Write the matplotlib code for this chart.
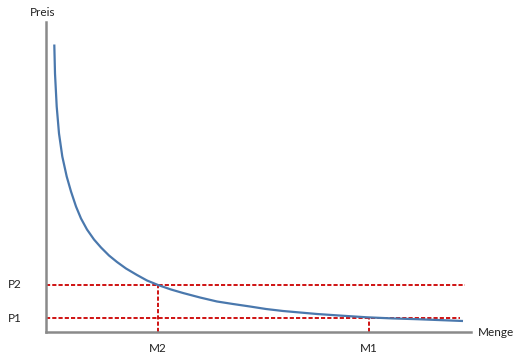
import matplotlib
matplotlib.use("Agg")
import matplotlib.pyplot as plt
import matplotlib.transforms as mtransforms

# Demand curve points (arbitrary units)
menge = [8.3, 9, 10.7, 13, 16.3, 20.7, 25, 30, 35, 41, 48, 55, 63, 71, 80, 91,
         101, 112, 125, 137, 154, 171, 187, 204, 220, 237, 254, 271, 296, 321,
         346, 371, 394, 417]
preis = [287, 258, 225, 198, 175, 155, 140, 125, 113, 102, 92, 84, 76, 69.5, 63, 56.5,
         51, 46.5, 42, 38.5, 34, 30, 27.5, 25, 22.5, 20.5, 19, 17.5, 15.8, 14.2,
         13.1, 12.3, 11.4, 10.5]

# Reference levels
P_labels = ["P2", "P1"]
P_values = [47, 13.5]
M_labels = ["M2", "M1"]
M_values = [112, 323]
P_line_end = [419, 414]

W, H = 526, 360
plt.rcParams['font.family'] = ['Lato', 'DejaVu Sans']
plt.rcParams['lines.scale_dashes'] = False

fig = plt.figure(figsize=(W / 100, H / 100), dpi=100)
ax = fig.add_axes([46 / W, 1 - 331.5 / H, (471 - 46) / W, (331.5 - 22) / H])
ax.set_xlim(0, 425)
ax.set_ylim(0, 309.5)

for s in ['top', 'right']:
    ax.spines[s].set_visible(False)
for s in ['left', 'bottom']:
    ax.spines[s].set_color('#8a8a8a')
    ax.spines[s].set_linewidth(1.8)
ax.set_xticks([])
ax.set_yticks([])

red = '#cc0000'
dash = (0, (3.0, 1.5))
lw_r = 1.3
for pv, xe in zip(P_values, P_line_end):
    ax.plot([0, xe], [pv, pv], color=red, lw=lw_r, linestyle=dash, zorder=2)
ax.plot([M_values[0], M_values[0]], [0, P_values[0]], color=red, lw=lw_r, linestyle=dash, zorder=2)
ax.plot([M_values[1], M_values[1]], [0, P_values[1]], color=red, lw=lw_r, linestyle=dash, zorder=2)

ax.plot(menge, preis, color='#4a78ad', lw=1.6, zorder=3,
        solid_capstyle='butt', solid_joinstyle='round')

fs = 8.5
tc = '#222222'
fig.text(43 / W, 1 - 12 / H, "Preis", ha='center', va='center', fontsize=fs, color=tc)
fig.text(478 / W, 1 - 332 / H, "Menge", ha='left', va='center', fontsize=fs, color=tc)

tr_y = mtransforms.blended_transform_factory(fig.transFigure, ax.transData)
for lab, pv in zip(P_labels, P_values):
    ax.text(15 / W, pv, lab, transform=tr_y, ha='center', va='center', fontsize=fs, color=tc)

tr_x = mtransforms.blended_transform_factory(ax.transData, fig.transFigure)
for lab, mv in zip(M_labels, M_values):
    ax.text(mv, 1 - 348 / H, lab, transform=tr_x, ha='center', va='center', fontsize=fs, color=tc)

fig.savefig("out.png", dpi=100)
